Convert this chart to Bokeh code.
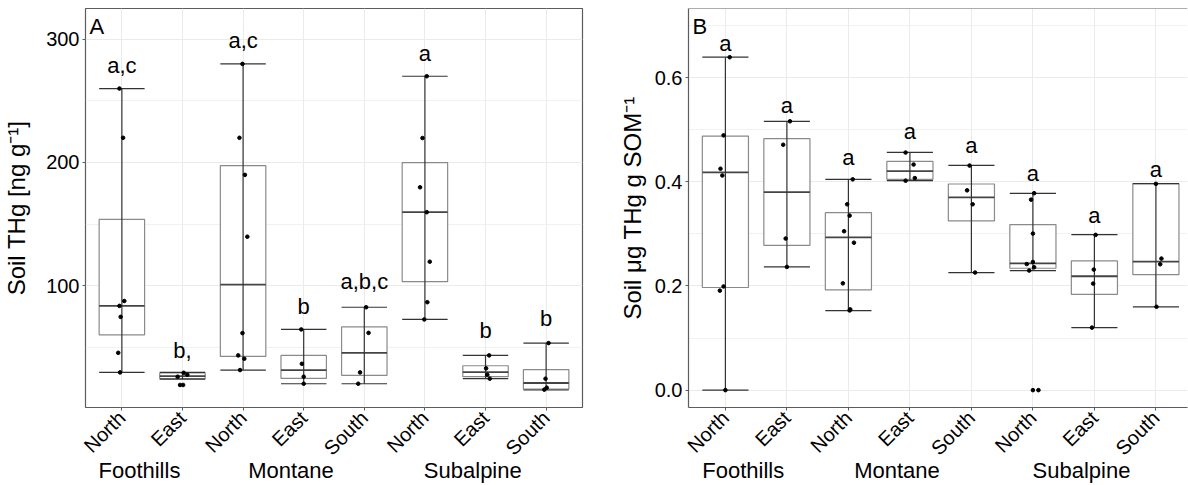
import numpy as np
from bokeh.plotting import figure
from bokeh.models import (ColumnDataSource, FixedTicker, Label, Span, Range1d,
                          LinearAxis)
from bokeh.layouts import row
from bokeh.embed import file_html
from bokeh.resources import INLINE
from bokeh.core.properties import value

FONT = "Liberation Sans"

# ---------------- data ----------------
groups = ["Foothills", "Foothills", "Montane", "Montane", "Montane",
          "Subalpine", "Subalpine", "Subalpine"]
aspects = ["North", "East", "North", "East", "South", "North", "East", "South"]
group_names = ["Foothills", "Montane", "Subalpine"]

# Panel A: Soil THg [ng g-1]
a_lower = [29.5, 24.0, 31.4, 20.3, 20.3, 72.5, 24.4, 15.2]
a_q1 = [60.0, 24.4, 42.5, 24.7, 27.1, 103.2, 26.0, 16.0]
a_med = [83.5, 26.5, 100.8, 31.4, 45.4, 159.6, 29.8, 20.9]
a_q3 = [153.7, 29.0, 197.4, 43.3, 66.5, 199.8, 34.9, 31.7]
a_upper = [260.0, 29.5, 280.0, 64.4, 82.4, 270.0, 43.3, 53.3]
a_letters = ["a,c", "b,", "a,c", "b", "a,b,c", "a", "b", "b"]
a_letter_y = [272.7, 41.4, 293.2, 77.6, 97.6, 282.4, 57.6, 67.9]
a_points = [
    [260, 220, 87.5, 83.5, 74.6, 45.4, 29.5],
    [26, 29.2, 27.6, 19.3, 19.3],
    [280, 220, 189.9, 139.7, 61.4, 43.3, 40.6, 31.4],
    [64.4, 36.5, 26, 20.3],
    [82.4, 61.6, 29.5, 20.3],
    [270, 219.8, 179.8, 159.6, 119.4, 86.5, 72.5],
    [43.3, 32.8, 27.6, 24.4],
    [53.3, 24.4, 17.1, 15.5],
]
a_jitter = [
    [-0.04, 0.02, 0.04, -0.04, -0.02, -0.06, -0.03],
    [-0.08, 0.02, 0.08, -0.04, 0.01],
    [-0.01, -0.06, 0.03, 0.07, -0.01, -0.08, 0.02, -0.05],
    [-0.04, -0.03, 0.0, 0.0],
    [0.03, 0.07, -0.07, -0.10],
    [0.03, -0.04, -0.08, 0.03, 0.08, 0.04, -0.01],
    [0.06, 0.01, 0.03, 0.07],
    [0.04, -0.01, 0.01, -0.03],
]
a_ticks = [100, 200, 300]
a_minor = [50, 150, 250]

# Panel B: Soil ug THg g SOM-1
b_lower = [0.0, 0.2365, 0.1527, 0.402, 0.2257, 0.2295, 0.120, 0.160]
b_q1 = [0.197, 0.278, 0.1924, 0.4046, 0.3247, 0.234, 0.184, 0.2218]
b_med = [0.418, 0.380, 0.2934, 0.4205, 0.370, 0.2435, 0.2186, 0.2467]
b_q3 = [0.4877, 0.4826, 0.3407, 0.439, 0.3957, 0.3177, 0.248, 0.3963]
b_upper = [0.639, 0.516, 0.4046, 0.4564, 0.4314, 0.3778, 0.2985, 0.3963]
b_letters = ["a", "a", "a", "a", "a", "a", "a", "a"]
b_letter_y = [0.652, 0.532, 0.433, 0.4826, 0.457, 0.4027, 0.3227, 0.411]
b_points = [
    [0.639, 0.489, 0.425, 0.412, 0.199, 0.191, 0.0],
    [0.516, 0.471, 0.291, 0.2365],
    [0.4046, 0.3567, 0.335, 0.305, 0.283, 0.205, 0.155, 0.153],
    [0.456, 0.433, 0.407, 0.402],
    [0.431, 0.3835, 0.3567, 0.2257],
    [0.378, 0.3656, 0.3005, 0.246, 0.242, 0.2359, 0.2295, 0.0, 0.0],
    [0.298, 0.2314, 0.2045, 0.120],
    [0.396, 0.2525, 0.2416, 0.160],
]
b_jitter = [
    [0.07, -0.03, -0.08, -0.05, -0.03, -0.09, 0.0],
    [0.05, -0.06, -0.02, 0.0],
    [0.07, -0.02, 0.02, -0.07, 0.09, -0.09, 0.03, 0.02],
    [-0.07, 0.06, 0.08, -0.07],
    [-0.03, -0.07, 0.02, 0.06],
    [0.02, -0.03, 0.0, 0.0, -0.10, 0.02, -0.06, 0.0, 0.09],
    [0.02, -0.01, -0.02, -0.04],
    [0.0, 0.09, 0.07, 0.01],
]
b_ticks = [0.0, 0.2, 0.4, 0.6]
b_minor = [0.1, 0.3, 0.5, 0.7]

# ---------------- styles ----------------
BOX_W = 0.75
GRID = "#EBEBEB"
FRAME = "#5c5c5c"
BOX_LINE = "#8a8a8a"
WHISK = "#333333"


def make_panel(tag, ylabel, lower, q1, med, q3, upper, letters, letter_y,
               points, jitter, ticks, minor, tick_fmt, xr, yr,
               width, height, left, right, top, bottom, full_outline, title_standoff):
    p = figure(width=width, height=height, output_backend="svg",
               toolbar_location=None, x_range=Range1d(*xr), y_range=Range1d(*yr),
               min_border_left=left, min_border_right=right,
               min_border_top=top, min_border_bottom=bottom)
    p.background_fill_color = "white"
    p.border_fill_color = "white"
    if full_outline:
        p.outline_line_color = FRAME
        p.outline_line_width = 1.2
        p.axis.axis_line_color = None
    else:
        p.outline_line_color = None
        p.axis.axis_line_color = FRAME
        p.axis.axis_line_width = 1.2
        p.add_layout(Span(location=yr[1], dimension="width",
                          line_color=FRAME, line_width=1.2))

    xs = np.arange(1, len(aspects) + 1, dtype=float)

    # grid
    p.xgrid.ticker = FixedTicker(ticks=list(xs))
    p.xgrid.grid_line_color = GRID
    p.xgrid.grid_line_width = 1.1
    p.ygrid.ticker = FixedTicker(ticks=ticks, minor_ticks=minor)
    p.ygrid.grid_line_color = GRID
    p.ygrid.grid_line_width = 1.1
    p.ygrid.minor_grid_line_color = GRID
    p.ygrid.minor_grid_line_width = 0.7

    # axes
    p.xaxis.ticker = FixedTicker(ticks=list(xs))
    p.xaxis.major_label_overrides = {int(x): a for x, a in zip(xs, aspects)}
    p.xaxis.major_label_orientation = np.pi / 4
    p.yaxis.ticker = FixedTicker(ticks=ticks, minor_ticks=minor)
    p.yaxis.major_label_overrides = {t: tick_fmt(t) for t in ticks}
    for ax in (p.xaxis[0], p.yaxis[0]):
        ax.major_tick_in = 0
        ax.major_tick_out = 3
        ax.major_tick_line_color = FRAME
        ax.minor_tick_line_color = None
        ax.major_label_text_font = FONT
        ax.major_label_text_font_size = "20px"
        ax.major_label_text_color = "black"
        ax.major_label_standoff = 2
    p.xaxis[0].major_label_standoff = 4
    p.yaxis.axis_label = ylabel
    p.yaxis.axis_label_text_font = FONT
    p.yaxis.axis_label_text_font_size = "24px"
    p.yaxis.axis_label_text_font_style = "normal"
    p.yaxis.axis_label_text_color = "black"
    p.yaxis.axis_label_standoff = title_standoff

    # group names as a second, bare axis below the aspect labels
    gpos = [float(np.mean([x for x, gg in zip(xs, groups) if gg == g])) - 0.21
            for g in group_names]
    gax = LinearAxis(ticker=FixedTicker(ticks=gpos),
                     major_label_overrides={gp: g for gp, g in zip(gpos, group_names)},
                     axis_line_color=None, major_tick_line_color=None,
                     minor_tick_line_color=None, major_tick_out=0, major_tick_in=0,
                     major_label_standoff=-13, major_label_text_font=FONT,
                     major_label_text_font_size="22px", major_label_text_color="black")
    p.add_layout(gax, "below")

    # boxes
    src = ColumnDataSource(dict(x=xs, lower=lower, q1=q1, med=med, q3=q3, upper=upper,
                                left=xs - BOX_W / 2, right=xs + BOX_W / 2,
                                letters=letters, ly=letter_y))
    p.quad(left="left", right="right", bottom="q1", top="q3", source=src,
           fill_color="white", line_color=BOX_LINE, line_width=1.2)
    p.segment(x0="left", x1="right", y0="med", y1="med", source=src,
              line_color="#444444", line_width=1.8)
    p.segment(x0="x", x1="x", y0="lower", y1="upper", source=src,
              line_color=WHISK, line_width=1.2)
    p.segment(x0="left", x1="right", y0="upper", y1="upper", source=src,
              line_color=WHISK, line_width=1.2)
    p.segment(x0="left", x1="right", y0="lower", y1="lower", source=src,
              line_color=WHISK, line_width=1.2)

    # jittered points
    px, py = [], []
    for x, vals, jit in zip(xs, points, jitter):
        for v, j in zip(vals, jit):
            px.append(x + j)
            py.append(v)
    p.scatter(px, py, size=3.6, color="black")

    # significance letters
    p.text(x="x", y="ly", text="letters", source=src, text_align="center",
           text_baseline="alphabetic", text_font=value(FONT), y_offset=-7,
           text_font_size="22px", text_color="black")

    # panel tag
    p.add_layout(Label(x=xr[0], y=yr[1], x_offset=4, y_offset=-18, text=tag,
                       text_font=FONT, text_font_size="22px",
                       text_baseline="alphabetic", text_color="black"))
    return p


pa = make_panel("A", "Soil THg [ng g\u207b\u00b9]", a_lower, a_q1, a_med, a_q3, a_upper,
                a_letters, a_letter_y, a_points, a_jitter, a_ticks, a_minor,
                lambda t: str(int(t)), (0.4, 8.6), (1.0, 325.0),
                595, 485, 83, 13, 7, 78, True, 13)
pb = make_panel("B", "Soil \u03bcg THg g SOM\u207b\u00b9", b_lower, b_q1, b_med, b_q3, b_upper,
                b_letters, b_letter_y, b_points, b_jitter, b_ticks, b_minor,
                lambda t: f"{t:.1f}", (0.4, 0.4 + 499 / 61.5), (-0.0333, 0.7325),
                593, 485, 93, 1, 8, 78, False, 6)

layout = row(pa, pb)
open("out.html", "w").write(file_html(layout, INLINE))
